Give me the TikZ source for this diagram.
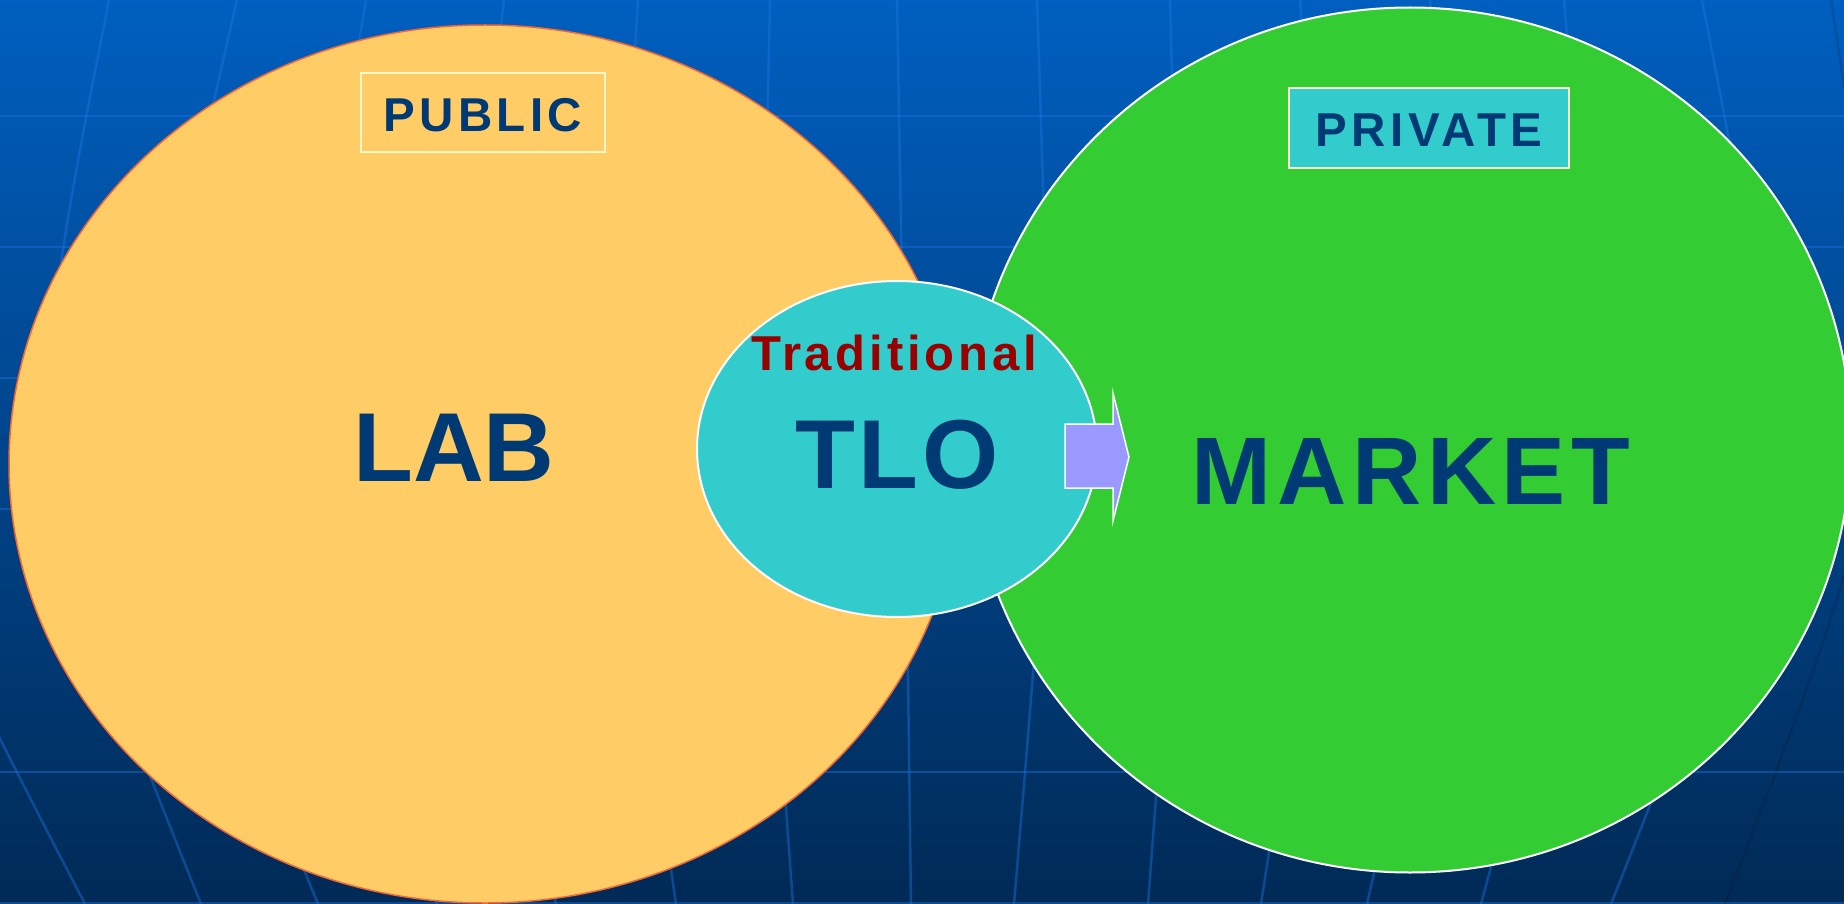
\documentclass[tikz,border=0pt]{standalone}
\usepackage{fontspec}
\setmainfont{Liberation Sans}
\usepackage{tikz}
\usetikzlibrary{shapes.geometric}

\definecolor{bgtop}{HTML}{005FBF}
\definecolor{bgbottom}{HTML}{002A56}
\definecolor{meshblue}{HTML}{1E78E6}
\definecolor{labfill}{HTML}{FFCC66}
\definecolor{laborange}{HTML}{F26535}
\definecolor{marketgreen}{HTML}{33CC33}
\definecolor{tlocyan}{HTML}{33CCCC}
\definecolor{arrowlilac}{HTML}{9999FF}
\definecolor{boxcream}{HTML}{FFF8C8}
\definecolor{navy}{HTML}{003A75}
\definecolor{darkred}{HTML}{990000}

\newcommand{\diagfont}[1]{\fontsize{#1}{#1}\selectfont\bfseries}

\begin{document}
\begin{tikzpicture}[x=1pt, y=-1pt,
    meshline/.style={draw=meshblue, line width=2.5pt, opacity=0.4},
    blob/.style={ellipse, inner sep=0pt},
    tagbox/.style={draw=boxcream, line width=2pt, inner sep=0pt},
    big/.style={text=navy, inner sep=0pt, anchor=base}]

    \useasboundingbox (0,0) rectangle (1844,904);
    \fill[top color=bgtop, bottom color=bgbottom] (0,0) rectangle (1844,904);

    % background grid
    \begin{scope}
        \clip (0,0) rectangle (1844,904);
        \foreach \yy in {116,247,378,509,772,903}
            \draw[meshline] (0,\yy) -- (1844,\yy);
        \foreach \xt/\xc/\xb in {-20/-150/85, 109/20/201, 237/133/318, 366/290/437,
                504/450/556, 638/610/676, 770/760/793, 897/905/911, 1037/1052/1014,
                1170/1182/1148, 1300/1330/1261, 1430/1470/1367, 1564/1603/1481,
                1702/1790/1611}
            \draw[meshline] (\xt,0) .. controls (\xc,452) .. (\xb,904);
        \draw[black, line width=2.5pt, opacity=0.12] (1831,0) .. controls (1900,452) .. (1725,904);
    \end{scope}

    \node[blob, fill=labfill, draw=laborange, line width=1.5pt, minimum width=952pt, minimum height=878pt] (lab) at (485,464) {};
    \node[blob, fill=marketgreen, draw=white, line width=2pt, minimum width=882pt, minimum height=865pt] (market) at (1410,440) {};
    \node[blob, fill=tlocyan, draw=white, line width=2pt, minimum width=400pt, minimum height=336pt] (tlo) at (897,449) {};

    \filldraw[fill=arrowlilac, draw=white, line width=1.5pt] (1065,424) -- (1113,424) -- (1113,393) -- (1129,457)
        -- (1113,521) -- (1113,488) -- (1065,488) -- cycle;

    \node[tagbox, minimum width=244pt, minimum height=79pt] (publicbox) at (483,112.5) {};
    \node[tagbox, fill=tlocyan, minimum width=280pt, minimum height=80pt] (privatebox) at (1429,128) {};

    \node[big, font=\diagfont{47.5pt}\addfontfeatures{LetterSpace=9}] (public) at (483,132) {PUBLIC};
    \node[big, font=\diagfont{47.5pt}\addfontfeatures{LetterSpace=10}] (private) at (1429,147) {PRIVATE};
    \node[big, font=\diagfont{98pt}] (labtext) at (454,481) {LAB};
    \node[big, text=darkred, font=\diagfont{49pt}\addfontfeatures{LetterSpace=7.8}] (traditional) at (894,370) {Traditional};
    \node[big, font=\diagfont{98pt}\addfontfeatures{LetterSpace=3.5}] (tlotext) at (897,488) {TLO};
    \node[big, font=\diagfont{96pt}\addfontfeatures{LetterSpace=5.8}] (markettext) at (1411,504) {MARKET};
\end{tikzpicture}
\end{document}
